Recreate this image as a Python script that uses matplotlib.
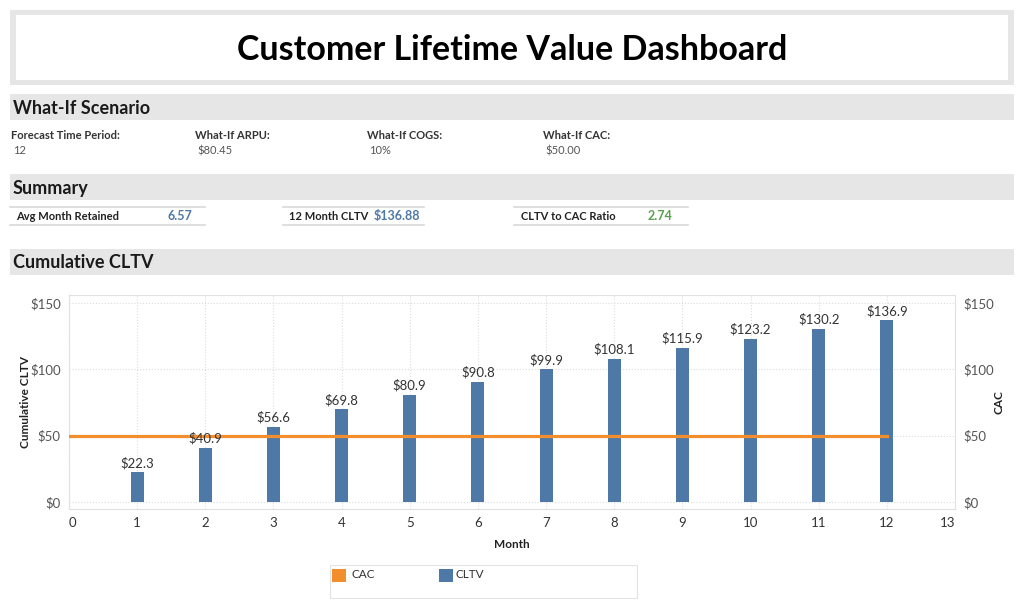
import matplotlib
matplotlib.use("Agg")
import matplotlib.pyplot as plt
from matplotlib.patches import Rectangle
from matplotlib.lines import Line2D

plt.rcParams['font.family'] = ['Lato', 'DejaVu Sans']

# ---- data ----
months = [1, 2, 3, 4, 5, 6, 7, 8, 9, 10, 11, 12]
cltv = [22.3, 40.9, 56.6, 69.8, 80.9, 90.8, 99.9, 108.1, 115.9, 123.2, 130.2, 136.9]
cac_months = [0, 1, 2, 3, 4, 5, 6, 7, 8, 9, 10, 11, 12]
cac = [50] * len(cac_months)
y_ticks = [0, 50, 100, 150]
y_tick_labels = ['$0', '$50', '$100', '$150']
x_ticks = list(range(0, 14))

whatif_labels = ['Forecast Time Period:', 'What-If ARPU:', 'What-If COGS:', 'What-If CAC:']
whatif_values = ['12', '$80.45', '10%', '$50.00']
summary_labels = ['Avg Month Retained', '12 Month CLTV', 'CLTV to CAC Ratio']
summary_values = ['6.57', '$136.88', '2.74']

BLUE = '#4e79a7'
ORANGE = '#f28e2b'
GREEN = '#59a14f'
W, H = 1024, 609

fig = plt.figure(figsize=(10.24, 6.09), dpi=100)
fig.patch.set_facecolor('white')

def rect(x0, y0, x1, y1, **kw):
    fig.patches.append(Rectangle((x0 / W, 1 - y1 / H), (x1 - x0) / W, (y1 - y0) / H,
                                 transform=fig.transFigure, **kw))

def hline(x0, x1, y, color='#d9d9d9', lw=1.2):
    fig.lines.append(Line2D([x0 / W, x1 / W], [1 - y / H, 1 - y / H],
                            transform=fig.transFigure, color=color, lw=lw))

def text(x, y, s, **kw):
    fig.text(x / W, 1 - y / H, s, **kw)

# title box
rect(10, 10, 1014, 85, facecolor='#e6e6e6', edgecolor='none')
rect(16, 15, 1008, 80, facecolor='white', edgecolor='none')
text(512, 50, 'Customer Lifetime Value Dashboard', ha='center', va='center',
     fontsize=24.5, fontweight='bold', color='black')

# section bands
for y0, y1, label in [(94, 120, 'What-If Scenario'), (174, 200, 'Summary'),
                      (249, 275, 'Cumulative CLTV')]:
    rect(10, y0, 1014, y1, facecolor='#e6e6e6', edgecolor='none')
    text(13, (y0 + y1) / 2 + 1, label, ha='left', va='center', fontsize=13,
         fontweight='bold', color='#1a1a1a')

# what-if row
wx = [11, 195, 367, 543]
for x, lab, val in zip(wx, whatif_labels, whatif_values):
    text(x, 136, lab, ha='left', va='center', fontsize=8, fontweight='bold', color='#333333')
    text(x + 2, 151, val, ha='left', va='center', fontsize=8, color='#555555')

# summary row
sum_lab_x = [16, 289, 521]
sum_val_x = [167, 374, 648]
sum_lines = [(10, 205), (283, 424), (514, 688)]
sum_colors = [BLUE, BLUE, GREEN]
for lx, vx, (l0, l1), lab, val, c in zip(sum_lab_x, sum_val_x, sum_lines,
                                          summary_labels, summary_values, sum_colors):
    hline(l0, l1, 207)
    hline(l0, l1, 225)
    text(lx, 216, lab, ha='left', va='center', fontsize=8, fontweight='bold', color='#222222')
    text(vx, 216, val, ha='left', va='center', fontsize=9, fontweight='bold', color=c)

# chart
ax = fig.add_axes([69 / W, 100 / H, (955 - 69) / W, (509 - 295) / H])
ax.set_xlim(0.0, 13.0)
ax.set_ylim(-5.3, 156)
ax.set_axisbelow(True)
ax.grid(True, color='#dcdcdc', linestyle=':', linewidth=0.8)
ax.bar(months, cltv, width=0.19, color=BLUE, zorder=2)
ax.plot(cac_months, cac, color=ORANGE, lw=2.3, zorder=3)
for m, v in zip(months, cltv):
    ax.text(m, v + 2.5, f'${v:.1f}', ha='center', va='bottom', fontsize=9.5, color='#333333')
ax.set_xticks(x_ticks)
ax.set_xticklabels([str(t) for t in x_ticks], fontsize=9.5, color='#333333')
xt = ax.get_xticklabels()
xt[0].set_ha('left')
xt[-1].set_ha('right')
ax.set_yticks(y_ticks)
ax.set_yticklabels(y_tick_labels, fontsize=9.5, color='#555555')
ax.tick_params(length=0, pad=6)
for s in ax.spines.values():
    s.set_color('#e0e0e0')
ax.set_xlabel('Month', fontsize=8.5, fontweight='bold', color='#222222')
ax.xaxis.set_label_coords(0.5, -0.141)
ax.set_ylabel('Cumulative CLTV', fontsize=8.5, fontweight='bold', color='#222222')
ax.yaxis.set_label_coords(-0.043, 0.5)

ax2 = ax.twinx()
ax2.set_ylim(ax.get_ylim())
ax2.set_yticks(y_ticks)
ax2.set_yticklabels(y_tick_labels, fontsize=9.5, color='#555555')
ax2.tick_params(length=0, pad=6)
for s in ax2.spines.values():
    s.set_visible(False)
ax2.set_ylabel('CAC', fontsize=8.5, fontweight='bold', color='#222222')
ax2.yaxis.set_label_coords(1.044, 0.5)

# legend box
rect(330, 565, 637, 598, facecolor='white', edgecolor='#e3e3e3', linewidth=0.8)
rect(332, 569, 346, 582, facecolor=ORANGE, edgecolor='none')
text(351, 575, 'CAC', ha='left', va='center', fontsize=8.5, color='#333333')
rect(439, 569, 453, 582, facecolor=BLUE, edgecolor='none')
text(456, 575, 'CLTV', ha='left', va='center', fontsize=8.5, color='#333333')

fig.savefig('out.png', dpi=100)
